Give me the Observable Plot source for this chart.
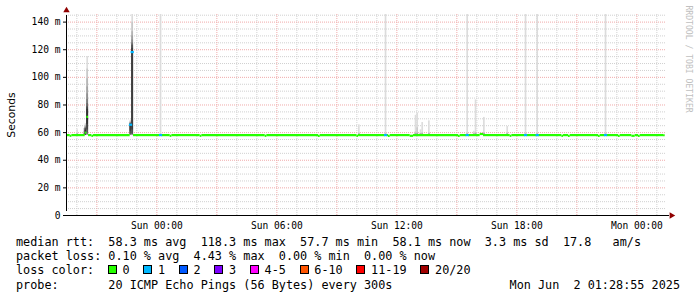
<!DOCTYPE html>
<html><head><meta charset="utf-8">
<script src="https://cdn.jsdelivr.net/npm/d3@7"></script>
<script src="https://cdn.jsdelivr.net/npm/@observablehq/plot@0.6"></script>
<style>
body{margin:0;background:#fff;}
#wrap{position:relative;width:697px;height:297px;overflow:hidden;background:#fff;}
.lg{position:absolute;left:16px;font-family:"DejaVu Sans Mono",monospace;font-size:11.8px;line-height:14px;white-space:pre;color:#000;}
.box{position:absolute;top:2px;width:7px;height:7px;border:1px solid #000;}
</style></head><body><div id="wrap"></div>
<script>
// ---- time window (UTC) ----
const startTime = "2025-05-31T19:28:55Z";
const endTime   = "2025-06-02T01:28:55Z";
const medianEnd = "2025-06-02T01:25Z";

// ---- axis ticks ----
const yTicks = [0, 20, 40, 60, 80, 100, 120, 140];
const xLabelTicks = ["2025-06-01T00:00Z","2025-06-01T06:00Z","2025-06-01T12:00Z","2025-06-01T18:00Z","2025-06-02T00:00Z"];

// ---- loss legend ----
const lossLabels = ["0","1","2","3","4-5","6-10","11-19","20/20"];
const lossColors = ["#26ff00","#00b8ff","#0059ff","#7e00ff","#ff00ff","#ff5500","#ff0000","#a10000"];

// ---- median rtt (ms): each entry starts a 5-min run lasting to the next entry ----
const medianTimes = [
  // Sat
  "2025-05-31T19:25","2025-05-31T19:40","2025-05-31T19:45","2025-05-31T20:25","2025-05-31T20:30","2025-05-31T20:35",
  "2025-05-31T20:45","2025-05-31T20:50","2025-05-31T22:40","2025-05-31T22:45","2025-05-31T22:50",
  // Sun
  "2025-06-01T00:10","2025-06-01T00:15","2025-06-01T00:40","2025-06-01T00:45","2025-06-01T02:10","2025-06-01T02:15","2025-06-01T05:25","2025-06-01T05:30","2025-06-01T08:05","2025-06-01T08:10",
  "2025-06-01T10:00","2025-06-01T10:05","2025-06-01T11:25","2025-06-01T11:30","2025-06-01T11:35","2025-06-01T11:40","2025-06-01T12:40","2025-06-01T12:50",
  "2025-06-01T15:05","2025-06-01T15:10","2025-06-01T15:30","2025-06-01T15:35","2025-06-01T16:10","2025-06-01T16:20","2025-06-01T17:40","2025-06-01T17:45",
  "2025-06-01T18:25","2025-06-01T18:30","2025-06-01T19:00","2025-06-01T19:05","2025-06-01T20:15","2025-06-01T20:20","2025-06-01T20:35","2025-06-01T20:40",
  "2025-06-01T22:05","2025-06-01T22:10","2025-06-01T22:25","2025-06-01T22:30","2025-06-01T23:05","2025-06-01T23:10","2025-06-01T23:45","2025-06-01T23:55",
  // Mon
  "2025-06-02T00:05","2025-06-02T00:10","2025-06-02T01:20"
];
const medianValues = [
  58.2, 57.7, 58.2, 60.0, 71.4, 58.2,
  57.7, 58.2, 65.7, 118.3, 58.2,
  58.2, 58.2, 57.7, 58.2, 57.7, 58.2, 57.7, 58.2, 57.7, 58.2,
  57.7, 58.2, 58.2, 58.2, 57.7, 58.2, 57.7, 58.2,
  57.7, 58.2, 58.2, 58.2, 59.0, 58.2, 57.7, 58.2,
  58.2, 58.2, 58.2, 58.2, 57.7, 58.2, 57.7, 58.2,
  57.7, 58.2, 58.2, 58.2, 57.7, 58.2, 57.7, 58.2,
  57.7, 58.2, 58.1
];
const medianLoss = [
  0, 0, 0, 0, 0, 0,
  0, 0, 1, 1, 0,
  1, 0, 0, 0, 0, 0, 0, 0, 0, 0,
  0, 0, 1, 0, 0, 0, 0, 0,
  0, 0, 1, 0, 0, 0, 0, 0,
  1, 0, 1, 0, 0, 0, 0, 0,
  0, 0, 1, 0, 0, 0, 0, 0,
  0, 0, 0
];

// ---- smoke: sorted ping rtts (ms) of the samples that stand out ----
const smokeTimes = [
  "2025-05-31T20:00","2025-05-31T20:20","2025-05-31T20:25","2025-05-31T20:30","2025-05-31T22:40","2025-05-31T22:45",
  "2025-06-01T00:10","2025-06-01T10:05","2025-06-01T11:25","2025-06-01T12:55","2025-06-01T13:00","2025-06-01T13:10",
  "2025-06-01T13:15","2025-06-01T13:35","2025-06-01T15:30","2025-06-01T15:50","2025-06-01T15:55","2025-06-01T16:20",
  "2025-06-01T17:30","2025-06-01T18:25","2025-06-01T19:00","2025-06-01T22:25"
];
const smokePings = [
  [57.8,57.9,58.0,58.0,58.1,58.1,58.2,58.2,58.2,58.3,58.3,58.3,58.4,58.4,58.5,58.6,58.7,58.9,59.4,62.0],
  [57.8,57.9,58.0,58.0,58.1,58.1,58.2,58.2,58.3,58.3,58.3,58.4,58.4,58.5,58.6,58.7,58.9,59.3,60.8,63.0],
  [57.8,57.9,58.0,58.0,58.1,58.1,58.2,58.2,58.3,58.4,61.6,62.5,63.0,63.2,63.5,64.0,64.5,65.0,65.5,66.5],
  [57.9,58.0,58.1,58.2,58.4,58.6,59.0,60.0,62.0,66.0,76.8,78.0,79.0,81.0,84.0,88.0,93.0,99.0,106.0,115.0],
  [57.8,57.9,58.0,58.1,58.2,58.3,58.5,59.0,61.0,65.7,66.0,66.2,66.5,66.8,67.0,67.3,67.7,68.2,69.0],
  [57.8,58.0,58.1,58.2,58.3,58.5,58.8,59.0,62.0,118.3,121.0,123.0,124.0,125.0,127.0,130.0,133.0,140.0,152.0],
  [57.9,58.0,58.0,58.1,58.1,58.2,58.2,58.2,58.3,58.3,58.3,58.4,58.4,58.5,58.5,58.6,58.7,58.9,210.0],
  [57.8,57.9,58.0,58.1,58.1,58.2,58.2,58.2,58.3,58.3,58.3,58.4,58.4,58.5,58.5,58.6,58.8,59.0,59.6,65.6],
  [57.9,58.0,58.1,58.1,58.2,58.2,58.2,58.3,58.3,58.3,58.4,58.4,58.5,58.5,58.6,58.7,58.8,59.1,185.0],
  [57.8,57.9,58.0,58.1,58.1,58.2,58.2,58.3,58.3,58.3,58.4,58.4,58.5,58.5,58.6,58.7,58.9,59.3,60.5,72.5],
  [57.8,58.0,58.0,58.1,58.1,58.2,58.2,58.2,58.3,58.3,58.4,58.4,58.5,58.5,58.6,58.8,59.0,59.6,63.5,74.0],
  [57.9,58.0,58.0,58.1,58.2,58.2,58.2,58.3,58.3,58.3,58.4,58.4,58.5,58.5,58.6,58.7,58.8,59.0,59.5,62.0],
  [57.8,57.9,58.0,58.1,58.1,58.2,58.2,58.3,58.3,58.3,58.4,58.4,58.5,58.5,58.6,58.7,58.9,59.2,60.0,67.3],
  [57.9,58.0,58.0,58.1,58.1,58.2,58.2,58.3,58.3,58.3,58.4,58.4,58.4,58.5,58.6,58.7,58.8,59.1,59.8,68.5],
  [57.8,58.0,58.1,58.1,58.2,58.2,58.2,58.3,58.3,58.3,58.4,58.4,58.5,58.5,58.6,58.7,58.9,59.2,230.0],
  [57.9,58.0,58.0,58.1,58.1,58.2,58.2,58.2,58.3,58.3,58.3,58.4,58.4,58.5,58.5,58.6,58.7,58.9,59.3,61.0],
  [57.8,57.9,58.0,58.1,58.1,58.2,58.2,58.3,58.3,58.3,58.4,58.4,58.5,58.5,58.6,58.7,58.9,59.4,60.2,83.7],
  [57.9,58.0,58.1,58.1,58.2,58.2,58.3,58.3,58.3,58.4,58.4,58.5,58.5,58.6,58.7,58.8,59.0,59.3,59.9,71.0],
  [57.8,57.9,58.0,58.1,58.1,58.2,58.2,58.2,58.3,58.3,58.3,58.4,58.4,58.5,58.5,58.6,58.8,59.0,59.7,64.4],
  [57.9,58.0,58.0,58.1,58.2,58.2,58.2,58.3,58.3,58.3,58.4,58.4,58.5,58.5,58.6,58.7,58.8,59.0,195.0],
  [57.8,58.0,58.0,58.1,58.1,58.2,58.2,58.3,58.3,58.3,58.4,58.4,58.4,58.5,58.6,58.7,58.9,59.1,240.0],
  [57.9,58.0,58.1,58.1,58.2,58.2,58.2,58.3,58.3,58.3,58.4,58.4,58.5,58.5,58.6,58.7,58.8,59.0,175.0]
];

// ---- legend texts ----
const statLines = [
  "median rtt:  58.3 ms avg  118.3 ms max  57.7 ms min  58.1 ms now  3.3 ms sd  17.8   am/s",
  "packet loss: 0.10 % avg  4.43 % max  0.00 % min  0.00 % now"
];
const probeText = "probe:       20 ICMP Echo Pings (56 Bytes) every 300s";
const stampText = "Mon Jun  2 01:28:55 2025";
const yTitle = "Seconds";
const creditText = "RRDTOOL / TOBI OETIKER";

// ---------------------------------------------------------------
const parse = s => new Date(s.endsWith("Z") ? s : s + "Z");
const STEP = 5 * 60 * 1000;
const t0 = parse(startTime), t1 = parse(endTime);

const runs = medianTimes.map((t, i) => ({
  a: parse(t),
  b: parse(i + 1 < medianTimes.length ? medianTimes[i + 1] : medianEnd),
  v: medianValues[i],
  c: lossColors[medianLoss[i]],
  loss: medianLoss[i]
}));

// SmokePing style smoke: pair outer pings first (light), inner pairs darker
const bands = [];
smokeTimes.forEach((t, k) => {
  const p = smokePings[k];
  const n = p.length, half = n / 2;
  const a = parse(t), b = new Date(+a + STEP);
  for (let ibot = 1, itop = n; itop > ibot; ibot++, itop--) {
    const g = Math.floor(190 / half * (half - ibot)) + 50;
    const hex = g.toString(16).padStart(2, "0");
    bands.push({a, b, lo: p[ibot - 1], hi: p[itop - 1], fill: "#" + hex + hex + hex});
  }
});

const yMax = 145.5;
const hours = d3.utcHour.range(d3.utcHour.ceil(t0), t1);
const majorX = hours.filter(d => d.getUTCHours() % 3 === 0);
const minorX = hours.filter(d => d.getUTCHours() % 3 !== 0);
const minorY = d3.range(5, yMax, 5).filter(v => v % 20 !== 0);
const majorY = d3.range(20, yMax, 20);
const gridGrey = "#d0d0d0", gridRed = "#f0aaaa";

const chart = Plot.plot({
  width: 697, height: 232,
  marginLeft: 66, marginRight: 31, marginTop: 14, marginBottom: 17,
  x: {type: "utc", domain: [t0, t1]},
  y: {domain: [0, yMax]},
  style: {fontFamily: "'DejaVu Sans Mono', monospace", fontSize: "9.6px", background: "white", color: "black", overflow: "visible"},
  marks: [
    Plot.ruleY(minorY, {stroke: gridGrey, strokeDasharray: "1,1"}),
    Plot.ruleX(minorX, {stroke: gridGrey, strokeDasharray: "1,1"}),
    Plot.ruleY(majorY, {stroke: gridRed, strokeDasharray: "1,1"}),
    Plot.ruleX(majorX, {stroke: gridRed, strokeDasharray: "1,1"}),
    Plot.rect(bands, {x1: "a", x2: "b", y1: "lo", y2: "hi", fill: "fill", clip: true}),
    Plot.ruleY(runs.filter(d => d.loss === 0), {x1: "a", x2: "b", y: "v", stroke: "c", strokeWidth: 2.2, clip: true}),
    Plot.ruleY(runs.filter(d => d.loss !== 0), {x1: "a", x2: "b", y: "v", stroke: "c", strokeWidth: 2.2, insetLeft: -0.8, insetRight: -0.8, clip: true}),
    Plot.axisY({ticks: yTicks, tickFormat: d => d === 0 ? "0" : `${d} m`, tickSize: 3, tickPadding: 3, fontSize: 9.6, label: null}),
    Plot.axisX({ticks: xLabelTicks.map(parse), tickFormat: d3.utcFormat("%a %H:%M"), tickSize: 0, tickPadding: 6.5, fontSize: 9.6, label: null}),
    Plot.ruleX([0], {x: () => t0, y1: () => 0, y2: () => yMax, stroke: "black", insetTop: -4, insetBottom: -1}),
    Plot.ruleY([0], {y: () => 0, x1: () => t0, x2: () => t1, stroke: "black", insetLeft: -3, insetRight: -3}),
    Plot.dot([0], {x: () => t0, y: () => yMax, symbol: "triangle", r: 2.4, fill: "#900000", stroke: null, dy: -4}),
    Plot.dot([0], {x: () => t1, y: () => 0, symbol: "triangle", r: 2.4, fill: "#900000", stroke: null, rotate: 90, dx: 5}),
    Plot.text([yTitle], {text: d => d, frameAnchor: "left", dx: -55, rotate: -90, textAnchor: "middle", lineAnchor: "middle", fontFamily: "'DejaVu Sans', sans-serif", fontSize: 10.8, fill: "black"}),
    Plot.text([creditText], {text: d => d, frameAnchor: "top-right", dx: 22, dy: -9, rotate: 90, textAnchor: "start", lineAnchor: "middle", fontSize: 8.1, fill: "#c0c0c0"})
  ]
});

const wrap = document.getElementById("wrap");
wrap.appendChild(chart);

function addRow(text, top, extra) {
  const div = document.createElement("div");
  div.className = "lg";
  div.style.top = top + "px";
  div.textContent = text;
  if (extra) extra(div);
  wrap.appendChild(div);
  return div;
}
addRow(statLines[0], 234.5);
addRow(statLines[1], 249);
// loss colour row: text with a box cell before each label
let lossText = "loss color:  ";
const boxCols = [];
lossLabels.forEach((lab, i) => {
  boxCols.push(lossText.length);
  lossText += "  " + lab + (i < lossLabels.length - 1 ? "  " : "");
});
addRow(lossText, 263, div => {
  boxCols.forEach((col, i) => {
    const b = document.createElement("span");
    b.className = "box";
    b.style.left = `calc(${col}ch - 0.5px)`;
    b.style.background = lossColors[i];
    div.appendChild(b);
  });
});
addRow(probeText, 277.5);
const st = addRow(stampText, 277.5);
st.style.left = "auto";
st.style.right = "17px";
</script></body></html>
